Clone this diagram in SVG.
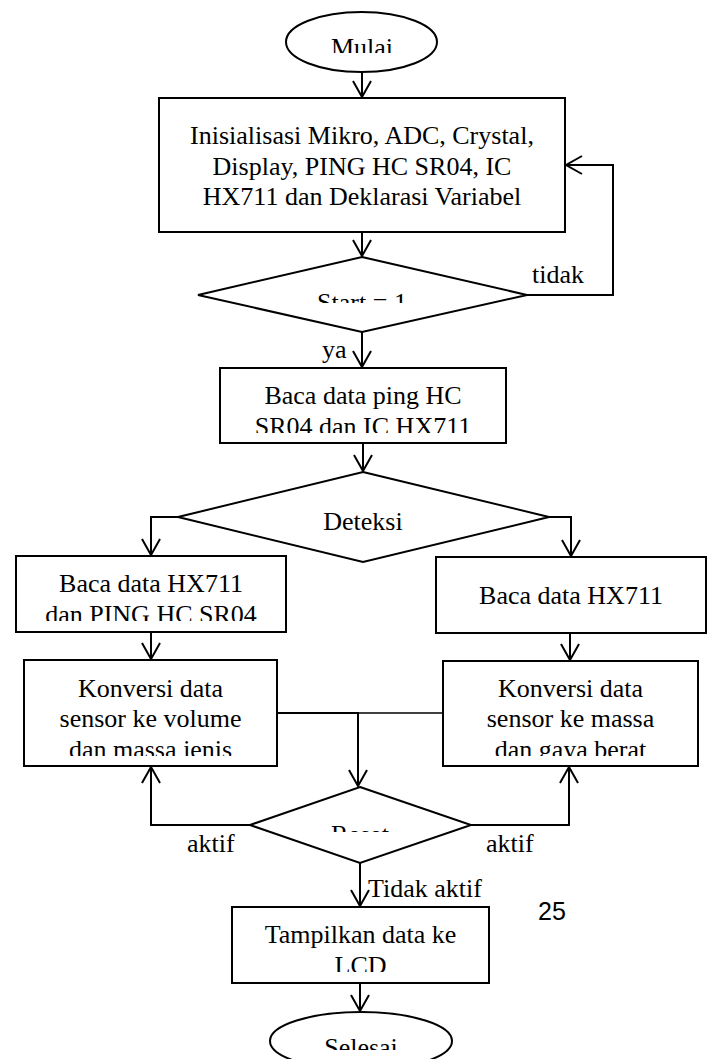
<svg xmlns="http://www.w3.org/2000/svg" width="716" height="1059" viewBox="0 0 716 1059">
<style>
.shape{fill:#fff;stroke:#000;stroke-width:2}
.t{font-family:"Liberation Serif","Times New Roman",serif;font-size:26px;fill:#000;text-anchor:middle}
.lbl{font-family:"Liberation Serif","Times New Roman",serif;font-size:26px;fill:#000}
.c{fill:none;stroke:#000;stroke-width:2}
.c1{fill:none;stroke:#000;stroke-width:1.5}
</style>
<defs>
<marker id="arr" markerUnits="userSpaceOnUse" markerWidth="20" markerHeight="22" refX="0" refY="0" viewBox="-18 -11 20 22" orient="auto">
<path d="M-16,-9 L0,0 L-16,9" fill="none" stroke="#000" stroke-width="2"/>
</marker>
<clipPath id="cMulai"><rect x="0" y="0" width="716" height="53"/></clipPath>
<clipPath id="cStart"><rect x="0" y="0" width="716" height="303"/></clipPath>
<clipPath id="cBaca1"><rect x="0" y="0" width="716" height="433"/></clipPath>
<clipPath id="cBaca2"><rect x="0" y="0" width="716" height="621"/></clipPath>
<clipPath id="cKonv"><rect x="0" y="0" width="716" height="756"/></clipPath>
<clipPath id="cReset"><rect x="0" y="0" width="716" height="832"/></clipPath>
<clipPath id="cTamp"><rect x="0" y="0" width="716" height="972"/></clipPath>
<clipPath id="cSel"><rect x="0" y="0" width="716" height="1050"/></clipPath>
</defs>
<rect width="716" height="1059" fill="#fff"/>

<g id="connectors">
<path class="c" d="M362,72 V97" marker-end="url(#arr)"/>
<path class="c" d="M362,232 V256" marker-end="url(#arr)"/>
<path class="c" d="M527,295 H613 V165 H566" marker-end="url(#arr)"/>
<path class="c" d="M362,332 V367" marker-end="url(#arr)"/>
<path class="c" d="M363,443 V471" marker-end="url(#arr)"/>
<path class="c" d="M178,517 H151 V555" marker-end="url(#arr)"/>
<path class="c" d="M549,517 H571 V556" marker-end="url(#arr)"/>
<path class="c" d="M151,632 V659" marker-end="url(#arr)"/>
<path class="c" d="M570,633 V660" marker-end="url(#arr)"/>
<path class="c1" d="M443,713 H358"/>
<path class="c" d="M277,713 H358 V786" marker-end="url(#arr)"/>
<path class="c" d="M250,825 H151 V767" marker-end="url(#arr)"/>
<path class="c" d="M471,825 H569 V767" marker-end="url(#arr)"/>
<path class="c" d="M360,863 V906" marker-end="url(#arr)"/>
<path class="c" d="M360,983 V1011" marker-end="url(#arr)"/>
<text class="lbl" x="532" y="283">tidak</text>
<text class="lbl" x="322" y="358">ya</text>
<text class="lbl" x="187" y="852">aktif</text>
<text class="lbl" x="486" y="852">aktif</text>
<text class="lbl" x="368" y="897">Tidak aktif</text>
</g>

<g id="mulai">
<ellipse class="shape" cx="361.5" cy="42" rx="75.5" ry="30"/>
<text class="t" x="362" y="56" clip-path="url(#cMulai)">Mulai</text>
</g>

<g id="init">
<rect class="shape" x="159" y="98" width="406" height="134"/>
<text class="t" x="362" y="144">Inisialisasi Mikro, ADC, Crystal,</text>
<text class="t" x="362" y="175">Display, PING HC SR04, IC</text>
<text class="t" x="362" y="205">HX711 dan Deklarasi Variabel</text>
</g>

<g id="start">
<polygon class="shape" points="362,257 527,295 362,332 198,295"/>
<text class="t" x="362" y="311" clip-path="url(#cStart)">Start = 1</text>
</g>

<g id="baca-ping">
<rect class="shape" x="220" y="368" width="286" height="75"/>
<text class="t" x="363" y="404">Baca data ping HC</text>
<text class="t" x="363" y="435" clip-path="url(#cBaca1)">SR04 dan IC HX711</text>
</g>

<g id="deteksi">
<polygon class="shape" points="363,472 549,517 363,562 178,517"/>
<text class="t" x="363" y="530">Deteksi</text>
</g>

<g id="baca-left">
<rect class="shape" x="16" y="556" width="270" height="76"/>
<text class="t" x="151" y="592">Baca data HX711</text>
<text class="t" x="151" y="623" clip-path="url(#cBaca2)">dan PING HC SR04</text>
</g>

<g id="baca-right">
<rect class="shape" x="436" y="557" width="270" height="76"/>
<text class="t" x="571" y="604">Baca data HX711</text>
</g>

<g id="konversi-left">
<rect class="shape" x="24" y="660" width="253" height="106"/>
<text class="t" x="150.5" y="697">Konversi data</text>
<text class="t" x="150.5" y="727">sensor ke volume</text>
<text class="t" x="150.5" y="758" clip-path="url(#cKonv)">dan massa jenis</text>
</g>

<g id="konversi-right">
<rect class="shape" x="443" y="661" width="255" height="105"/>
<text class="t" x="570.5" y="697">Konversi data</text>
<text class="t" x="570.5" y="727">sensor ke massa</text>
<text class="t" x="570.5" y="758" clip-path="url(#cKonv)">dan gaya berat</text>
</g>

<g id="reset">
<polygon class="shape" points="360,787 471,825 360,863 250,825"/>
<text class="t" x="360" y="843" clip-path="url(#cReset)">Reset</text>
</g>

<g id="tampilkan">
<rect class="shape" x="232" y="907" width="257" height="76"/>
<text class="t" x="360.5" y="943">Tampilkan data ke</text>
<text class="t" x="360.5" y="974" clip-path="url(#cTamp)">LCD</text>
</g>

<g id="selesai">
<ellipse class="shape" cx="361" cy="1041" rx="91" ry="29"/>
<text class="t" x="361" y="1056" clip-path="url(#cSel)">Selesai</text>
</g>

<g id="page-number">
<text x="538" y="920" style="font-family:'Liberation Sans',Arial,sans-serif;font-size:25px;fill:#000">25</text>
</g>
</svg>
